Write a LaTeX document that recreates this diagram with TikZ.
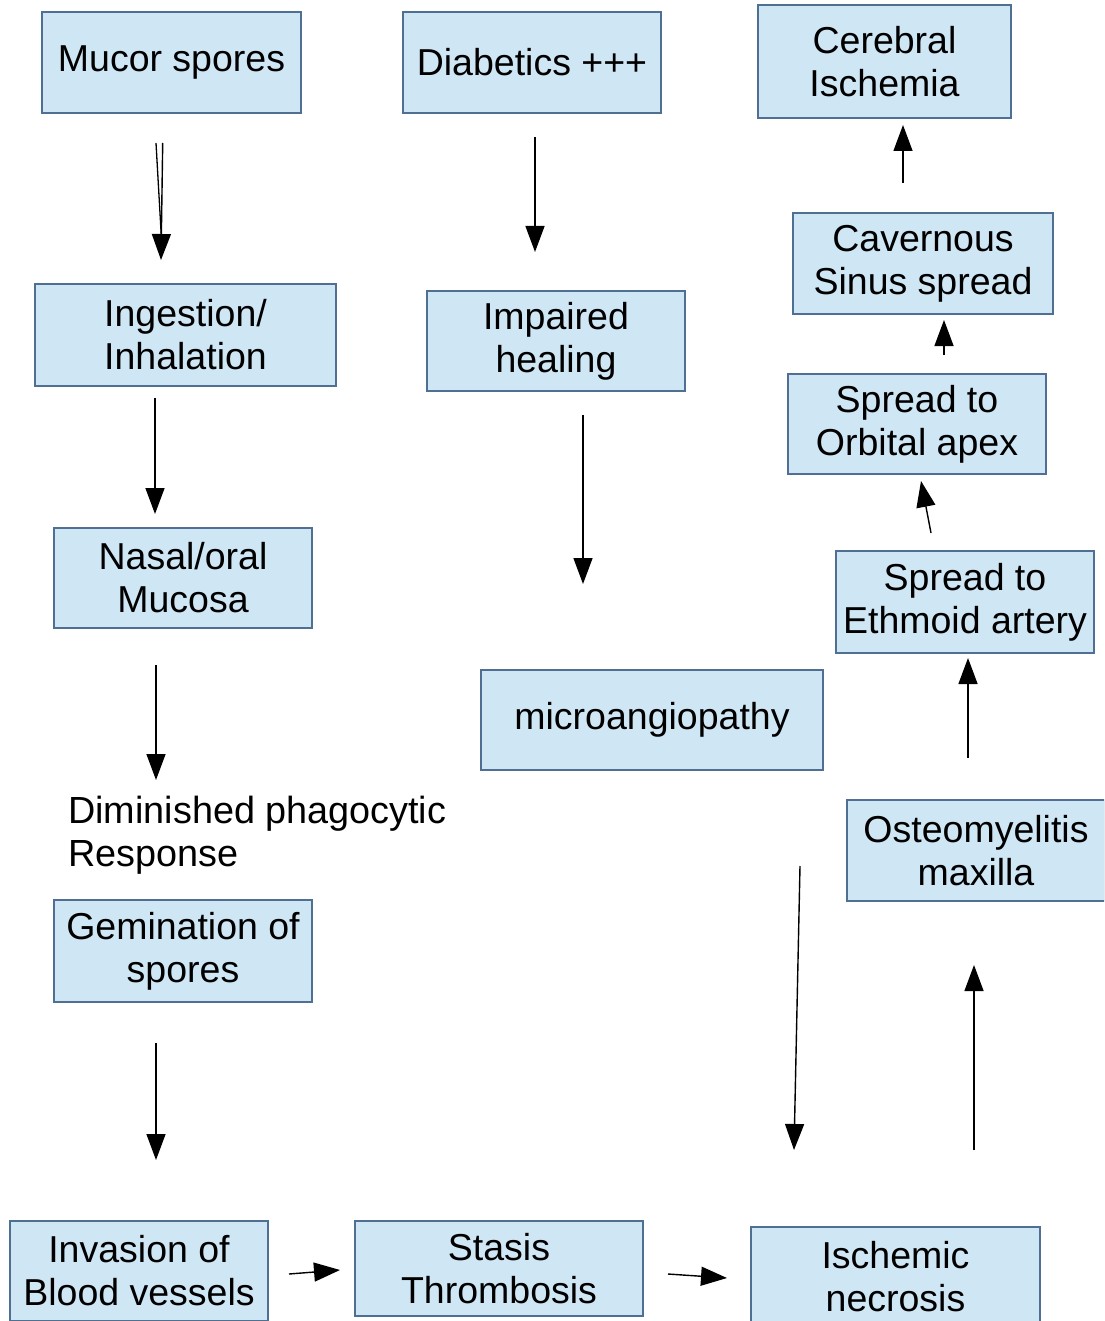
\documentclass[tikz,border=0pt]{standalone}
\usepackage{fontspec}
\setmainfont{Liberation Sans}
\usetikzlibrary{arrows.meta}
\definecolor{boxfill}{HTML}{CFE6F5}
\definecolor{boxline}{HTML}{4F6F93}
\tikzset{
  x=1pt,y=-1pt,
  box/.style={draw=boxline, fill=boxfill, line width=1.3pt, align=center, inner sep=0pt,
    font=\fontsize{37.5}{43}\selectfont},
  conn/.style={line width=1.4pt, -{Triangle[width=19pt,length=26pt]}},
  plain/.style={align=left, inner sep=0pt, font=\fontsize{37.8}{43}\selectfont},
}
\begin{document}
\begin{tikzpicture}
\clip (0,0) rectangle (1104,1321);
\fill[white] (0,0) rectangle (1104,1321);
% boxes
\node[box, minimum width=259pt, minimum height=101pt] (ms) at (171.5,62.5) {\raisebox{-3pt}{Mucor spores}};
\node[box, minimum width=258pt, minimum height=101pt] (db) at (532,62.5) {Diabetics +++};
\node[box, minimum width=253pt, minimum height=113pt] (ci) at (884.5,61.5) {Cerebral\\Ischemia};
\node[box, minimum width=260pt, minimum height=101pt] (cs) at (923,263.5) {Cavernous\\Sinus spread};
\node[box, minimum width=258pt, minimum height=100pt] (oa) at (917,424) {Spread to\\Orbital apex};
\node[box, minimum width=258pt, minimum height=102pt] (ea) at (965,602) {Spread to\\Ethmoid artery};
\node[box, minimum width=258pt, minimum height=101pt] (om) at (976,850.5) {Osteomyelitis\\maxilla};
\node[box, minimum width=301pt, minimum height=102pt] (ii) at (185.5,335) {Ingestion/\\Inhalation};
\node[box, minimum width=258pt, minimum height=100pt] (ih) at (556,341) {Impaired\\healing};
\node[box, minimum width=258pt, minimum height=100pt] (nm) at (183,578) {Nasal/oral\\Mucosa};
\node[box, minimum width=342pt, minimum height=100pt] (mi) at (652,720) {microangiopathy};
\node[plain, anchor=north west] (dp) at (68,796) {Diminished phagocytic\\Response};
\node[box, minimum width=258pt, minimum height=102pt] (gs) at (183,951) {Gemination of\\spores};
\node[box, minimum width=258pt, minimum height=100pt] (ib) at (139,1271) {Invasion of\\Blood vessels};
\node[box, minimum width=288pt, minimum height=95pt] (st) at (499,1268.5) {Stasis\\Thrombosis};
\node[box, minimum width=289pt, minimum height=100pt] (in) at (895.5,1277) {Ischemic\\necrosis};
% connector end points (arrows stand free of the boxes)
\coordinate (a1s) at (156,143); \coordinate (a1t) at (162.7,143); \coordinate (a1e) at (161,260);
\coordinate (a2s) at (535,137); \coordinate (a2e) at (535,252);
\coordinate (a3s) at (903,183); \coordinate (a3e) at (903,125);
\coordinate (a4s) at (944,355); \coordinate (a4e) at (944,320);
\coordinate (a5s) at (931,533); \coordinate (a5e) at (921,481);
\coordinate (a6s) at (968,758); \coordinate (a6e) at (968,658);
\coordinate (a7s) at (974,1150); \coordinate (a7e) at (974,965);
\coordinate (a8s) at (155,398); \coordinate (a8e) at (155,514);
\coordinate (a9s) at (583,415); \coordinate (a9e) at (583,584);
\coordinate (a10s) at (156,665); \coordinate (a10e) at (156,780);
\coordinate (a11s) at (156,1043); \coordinate (a11e) at (156,1160);
\coordinate (a12s) at (800,866); \coordinate (a12e) at (794,1150);
\coordinate (a13s) at (289,1274); \coordinate (a13e) at (340,1270);
\coordinate (a14s) at (668,1274); \coordinate (a14e) at (727,1278);
% arrows
\draw[line width=1.3pt] (a1s) -- (161.3,236);
\draw[conn] (a1t) -- (a1e);
\draw[conn] (a2s) -- (a2e);
\draw[conn] (a3s) -- (a3e);
\draw[conn] (a4s) -- (a4e);
\draw[conn] (a5s) -- (a5e);
\draw[conn] (a6s) -- (a6e);
\draw[conn] (a7s) -- (a7e);
\draw[conn] (a8s) -- (a8e);
\draw[conn] (a9s) -- (a9e);
\draw[conn] (a10s) -- (a10e);
\draw[conn] (a11s) -- (a11e);
\draw[conn] (a12s) -- (a12e);
\draw[conn] (a13s) -- (a13e);
\draw[conn] (a14s) -- (a14e);
\end{tikzpicture}
\end{document}
